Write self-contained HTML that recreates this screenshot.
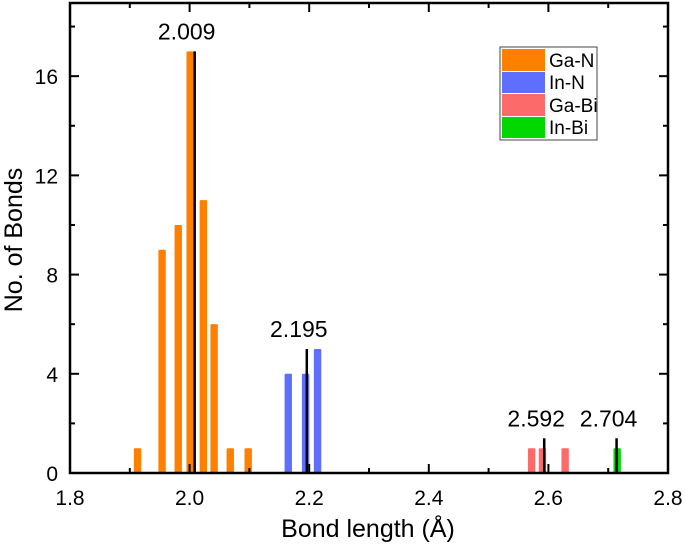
<!DOCTYPE html>
<html><head><meta charset="utf-8"><style>
body{margin:0;background:#fff}
svg text{font-family:"Liberation Sans",Arial,sans-serif}
</style></head><body>
<svg id="chart" width="685" height="544" viewBox="0 0 685 544" xmlns="http://www.w3.org/2000/svg">
<g id="marks"></g>
<g id="axes"></g>
<g id="legend">
<rect x="500" y="47" width="97" height="93" fill="#fff" stroke="#444" stroke-width="1"/>
<rect x="502" y="49" width="43" height="22" fill="#ff7f00"/>
<text x="549" y="67" font-size="19">Ga-N</text>
<rect x="502" y="72" width="43" height="21" fill="#5f6ffd"/>
<text x="549" y="89" font-size="19">In-N</text>
<rect x="502" y="94" width="43" height="22" fill="#fd6a6a"/>
<text x="549" y="112" font-size="19">Ga-Bi</text>
<rect x="502" y="117" width="43" height="21" fill="#00d800"/>
<text x="549" y="134" font-size="19">In-Bi</text>
</g>
<text x="368" y="537" font-size="25" text-anchor="middle">Bond length (Å)</text>
<text transform="translate(22,240) rotate(-90)" font-size="25" text-anchor="middle">No. of Bonds</text>
</svg>
<script>
const gaNx=[1.913,1.954,1.981,2.001,2.023,2.041,2.068,2.098];
const gaNy=[1,9,10,17,11,6,1,1];
const inNx=[2.165,2.194,2.214];
const inNy=[4,4,5];
const gaBix=[2.572,2.590,2.628];
const gaBiy=[1,1,1];
const inBix=[2.715];
const inBiy=[1];
const meanX=[2.0085,2.196,2.593,2.714];
const meanTop=[17,5,1.4,1.4];
const meanLabels=["2.009","2.195","2.592","2.704"];
const xTicks=[1.8,2.0,2.2,2.4,2.6,2.8];
const xTickLabels=["1.8","2.0","2.2","2.4","2.6","2.8"];
const yTicks=[0,4,8,12,16];
const yTickLabels=["0","4","8","12","16"];

const X0=70,X1=668,Y0=473,Y1=3,XMIN=1.8,XMAX=2.8,YMAX=18.95;
const sx=v=>X0+(v-XMIN)/(XMAX-XMIN)*(X1-X0);
const sy=v=>Y0-v/YMAX*(Y0-Y1);
const NS="http://www.w3.org/2000/svg";
const marks=document.getElementById('marks'),axes=document.getElementById('axes');
function mk(tag,attrs,parent){const e=document.createElementNS(NS,tag);for(const k in attrs)e.setAttribute(k,attrs[k]);parent.appendChild(e);return e;}
function bars(xs,ys,color,name){xs.forEach((x,i)=>{
 const r=mk('rect',{x:sx(x)-3.7,y:sy(ys[i]),width:7.4,height:Y0-sy(ys[i]),fill:color,rx:1},marks);
 
 
});}
bars(gaNx,gaNy,'#ff7f00','ga-n');
bars(inNx,inNy,'#5f6ffd','in-n');
bars(gaBix,gaBiy,'#fd6a6a','ga-bi');
bars(inBix,inBiy,'#00d800','in-bi');
meanX.forEach((x,i)=>{
 const l=mk('line',{x1:sx(x),x2:sx(x),y1:Y0,y2:sy(meanTop[i]),stroke:'#000','stroke-width':2.5},marks);
 
 
 const t=mk('text',{x:sx(x)-8,y:sy(meanTop[i])-12,'font-size':23,'text-anchor':'middle'},marks);
 t.textContent=meanLabels[i];
 
 
});
const frame=mk('rect',{x:X0,y:Y1,width:X1-X0,height:Y0-Y1,fill:'none',stroke:'#000','stroke-width':2.5},axes);


for(let v=1.8;v<=2.8001;v+=0.1){const px=sx(v);const maj=Math.abs(Math.round(v*5)-v*5)<1e-6;const L=maj?9:5;
 mk('line',{x1:px,x2:px,y1:Y0,y2:Y0-L,stroke:'#000','stroke-width':2},axes);
 mk('line',{x1:px,x2:px,y1:Y1,y2:Y1+L,stroke:'#000','stroke-width':2},axes);}
for(let v=0;v<=18;v+=2){const py=sy(v);const L=(v%4===0)?9:5;
 mk('line',{x1:X0,x2:X0+L,y1:py,y2:py,stroke:'#000','stroke-width':2},axes);
 mk('line',{x1:X1,x2:X1-L,y1:py,y2:py,stroke:'#000','stroke-width':2},axes);}
xTicks.forEach((v,i)=>{const t=mk('text',{x:sx(v),y:Y0+32,'font-size':21,'text-anchor':'middle'},axes);t.textContent=xTickLabels[i];
 
 });
yTicks.forEach((v,i)=>{const t=mk('text',{x:X0-12,y:sy(v)+8,'font-size':21,'text-anchor':'end'},axes);t.textContent=yTickLabels[i];
 
 });
</script>
</body></html>
